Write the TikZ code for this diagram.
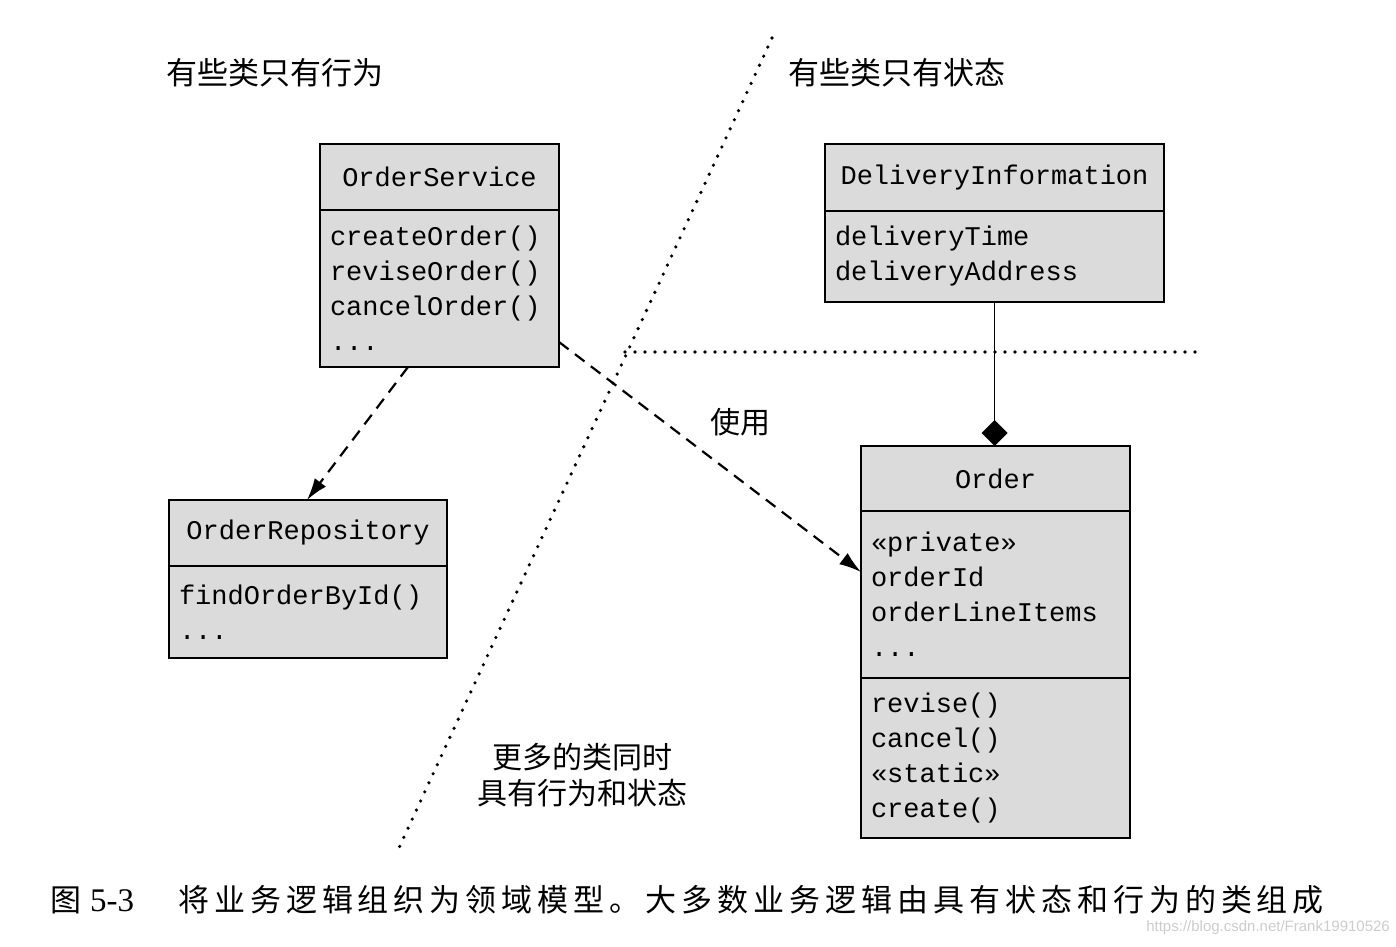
\documentclass[tikz,border=0pt]{standalone}
\usepackage{fontspec}
\setmainfont{Liberation Serif}
\setsansfont{Liberation Sans}
\setmonofont{Liberation Mono}
\newfontfamily\cjk{Noto Sans CJK SC}
\newfontfamily\cjkcap[LetterSpace=16]{Noto Sans CJK SC}
\usetikzlibrary{positioning,arrows.meta}
\definecolor{boxgray}{gray}{0.86}
\tikzset{
  classhead/.style={draw, fill=boxgray, line width=2.2pt, outer sep=0pt, inner xsep=10pt, inner ysep=0pt, align=center, font=\ttfamily\fontsize{27}{35}\selectfont},
  classbody/.style={classhead, align=left},
  uses/.style={dash pattern=on 12pt off 8pt, line width=2.2pt, -{Latex[length=22pt,width=14pt]}},
  owns/.style={line width=1.8pt, -{Diamond[length=26pt,width=26pt]}},
  divider/.style={line width=3.6pt, line cap=round, dash pattern=on 0pt off 10pt},
  heading/.style={inner sep=0pt, font=\cjk\fontsize{31}{36}\selectfont}
}
\begin{document}
\begin{tikzpicture}[x=1pt,y=-1pt]
  \useasboundingbox (0,0) rectangle (1396,946);
  \node[heading] (behav) at (275,73) {有些类只有行为};
  \node[heading] (state) at (897,73) {有些类只有状态};
  \draw[divider] (772,38) -- (398,850);
  \draw[divider] (625,352) -- (1205,352);

  \node[classhead, anchor=north west, text width=219pt, minimum height=66pt] (svc) at (320,144) {OrderService};
  \node[classbody, below=0pt of svc, text width=219pt, minimum height=157pt] (svcops) {createOrder()\\reviseOrder()\\cancelOrder()\\...};

  \node[classhead, anchor=north west, text width=319pt, minimum height=67pt] (info) at (825,144) {DeliveryInformation};
  \node[classbody, below=0pt of info, text width=319pt, minimum height=91pt] (infoattrs) {deliveryTime\\deliveryAddress};

  \node[classhead, anchor=north west, text width=258pt, minimum height=66pt] (repo) at (169,500) {OrderRepository};
  \node[classbody, below=0pt of repo, text width=258pt, minimum height=92pt] (repoops) {findOrderById()\\...};

  \node[classhead, anchor=north west, text width=249pt, minimum height=65pt] (order) at (861,446) {Order};
  \node[classbody, below=0pt of order, text width=249pt, minimum height=167pt] (orderattrs) {«private»\\orderId\\orderLineItems\\...};
  \node[classbody, below=0pt of orderattrs, text width=249pt, minimum height=160pt] (orderops) {revise()\\cancel()\\«static»\\create()};

  \draw[uses] ([xshift=88pt]svcops.south west) -- ([xshift=138pt]repo.north west);
  \draw[uses] ([yshift=-53.5pt]svcops.east) -- ([yshift=22.5pt]orderattrs.west);
  \node[heading, font=\cjk\fontsize{30}{36}\selectfont] (uselbl) at (740,422) {使用};
  \draw[owns] (infoattrs.south) -- (infoattrs.south |- order.north);

  \node[heading, align=center, font=\cjk\fontsize{30}{36}\selectfont] (both) at (582,775) {更多的类同时\\具有行为和状态};

  \node[anchor=west, inner sep=0pt] (figno) at (50,900) {{\cjk\fontsize{31}{36}\selectfont 图}\hspace{9pt}{\rmfamily\fontsize{33}{36}\selectfont 5-3}};
  \node[anchor=west, inner sep=0pt, font=\cjkcap\fontsize{31}{36}\selectfont] (cap) at (178,900) {将业务逻辑组织为领域模型。大多数业务逻辑由具有状态和行为的类组成};
  \node[anchor=east, inner sep=0pt, text=gray!40, font=\sffamily\fontsize{15}{18}\selectfont] (mark) at (1390,928) {https://blog.csdn.net/Frank19910526};
\end{tikzpicture}
\end{document}
